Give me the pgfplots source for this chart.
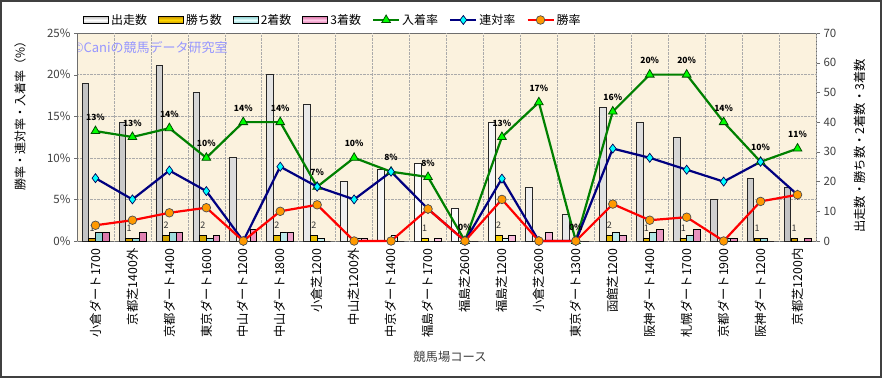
\documentclass[border=0pt]{standalone}
\usepackage{pgfplots}
\pgfplotsset{compat=1.18}
\usepackage{pgfplotstable}
\usepackage{fontspec}
\setmainfont{Noto Sans CJK JP}

\definecolor{bgbeige}{RGB}{251,242,222}
\definecolor{gridgray}{RGB}{170,170,170}
\definecolor{axgray}{RGB}{110,110,110}
\definecolor{goldL}{RGB}{255,215,0}
\definecolor{goldD}{RGB}{200,150,0}
\definecolor{cyanL}{RGB}{230,255,255}
\definecolor{cyanD}{RGB}{140,210,210}
\definecolor{pinkL}{RGB}{255,200,230}
\definecolor{pinkD}{RGB}{220,120,170}
\definecolor{grayD}{RGB}{195,195,195}
\definecolor{lgreen}{RGB}{0,128,0}
\definecolor{mgreen}{RGB}{0,255,0}
\definecolor{lnavy}{RGB}{0,0,128}
\definecolor{mcyan}{RGB}{0,255,255}
\definecolor{lred}{RGB}{255,0,0}
\definecolor{morange}{RGB}{255,153,0}
\definecolor{wmark}{RGB}{150,150,255}

\pgfplotstableread{
x N W S T wl
0 53 1 3 3 1
1 40 1 1 3 1
2 59 2 3 3 2
3 50 2 1 2 2
4 28 0 0 4 {}
5 56 2 3 3 2
6 46 2 1 0 2
7 20 0 1 1 {}
8 24 0 2 0 {}
9 26 1 0 1 1
10 11 0 0 0 {}
11 40 2 1 2 2
12 18 0 0 3 {}
13 9 0 0 0 {}
14 45 2 3 2 2
15 40 1 3 4 1
16 35 1 2 4 1
17 14 0 1 1 {}
18 21 1 1 0 1
19 18 1 0 1 1
}\bardata

\pgfplotstableread{
x win ren nyu
0 1.89 7.55 13.21
1 2.50 5.00 12.50
2 3.39 8.47 13.56
3 4.00 6.00 10.00
4 0 0 14.29
5 3.57 8.93 14.29
6 4.35 6.52 6.52
7 0 5.00 10.00
8 0 8.33 8.33
9 3.85 3.85 7.69
10 0 0 0
11 5.00 7.50 12.50
12 0 0 16.67
13 0 0 0
14 4.44 11.11 15.56
15 2.50 10.00 20.00
16 2.86 8.57 20.00
17 0 7.14 14.29
18 4.76 9.52 9.52
19 5.56 5.56 11.11
}\ratedata

\begin{document}
\begin{tikzpicture}[x=1pt,y=1pt]
\useasboundingbox (0,0) rectangle (882,378);
\fill[white] (0,0) rectangle (882,378);
% ---------- bars (right axis) ----------
\begin{axis}[
 at={(77pt,137pt)}, anchor=south west, scale only axis,
 width=739pt, height=208pt,
 xmin=-0.5, xmax=19.5, ymin=0, ymax=70,
 axis background/.style={fill=bgbeige},
 axis line style={axgray},
 ybar=0pt, bar width=6.7pt,
 xtick={0,...,19},
 xticklabels={小倉ダート1700,京都芝1400外,京都ダート1400,東京ダート1600,中山ダート1200,中山ダート1800,小倉芝1200,中山芝1200外,中京ダート1400,福島ダート1700,福島芝2600,福島芝1200,小倉芝2600,東京ダート1300,函館芝1200,阪神ダート1400,札幌ダート1700,京都ダート1900,阪神ダート1200,京都芝1200内},
 x tick label style={rotate=90, anchor=east, font=\fontsize{12.3}{13}\selectfont, black},
 major x tick style={draw=none},
 extra x ticks={-0.5,0.5,...,19.5}, extra x tick labels={},
 extra x tick style={grid=major, major tick length=0pt},
 ytick={0,10,...,70}, ytick pos=right, yticklabel pos=right,
 extra y ticks={14,28,42,56}, extra y tick labels={},
 extra y tick style={grid=major, major tick length=0pt},
 grid style={gridgray, densely dotted, line width=0.6pt},
 tick align=outside, major tick length=4pt,
 tick style={axgray},
 y tick label style={font=\fontsize{11.5}{12}\selectfont, black!75},
 /pgf/number format/assume math mode=true,
]
\addplot[draw=black!85, line width=0.8pt, left color=grayD, right color=grayD, middle color=white] table[x=x,y=N]{\bardata};
\addplot[draw=black, line width=0.6pt, left color=goldD, right color=goldD, middle color=goldL,
  nodes near coords, point meta=explicit symbolic,
  every node near coord/.append style={font=\fontsize{9}{10}\selectfont, black!80, yshift=3pt}] table[x=x,y=W,meta=wl]{\bardata};
\addplot[draw=black, line width=0.6pt, left color=cyanD, right color=cyanD, middle color=cyanL] table[x=x,y=S]{\bardata};
\addplot[draw=black, line width=0.6pt, left color=pinkD, right color=pinkD, middle color=pinkL] table[x=x,y=T]{\bardata};
\node[anchor=west, text=wmark, font=\fontsize{13}{14}\selectfont, inner sep=0pt] at (rel axis cs:-0.006,0.928) {©Caniの競馬データ研究室};
\end{axis}
% ---------- rates (left axis) ----------
\begin{axis}[
 at={(77pt,137pt)}, anchor=south west, scale only axis,
 width=739pt, height=208pt,
 xmin=-0.5, xmax=19.5, ymin=0, ymax=25,
 axis x line=none, axis y line*=left, axis line style={axgray},
 ytick={0,5,...,25}, yticklabel={\pgfmathprintnumber{\tick}\%},
 tick align=outside, major tick length=3pt, tick style={axgray},
 y tick label style={font=\fontsize{11.5}{12}\selectfont, black!75},
 /pgf/number format/assume math mode=true,
 clip=false,
 legend columns=7,
 legend style={draw=none, fill=none, at={(axis description cs:0.008,1.0625)}, anchor=west,
   font=\fontsize{12}{13}\selectfont, /tikz/every even column/.append style={column sep=9pt},
   inner sep=0pt},
 legend cell align=left,
 legend image code/.code={\draw[mark repeat=2,mark phase=2,#1] plot coordinates {(0pt,0pt) (13pt,0pt) (26pt,0pt)};},
]
\addlegendimage{legend image code/.code={\draw[draw=black, line width=0.9pt, top color=grayD, bottom color=grayD, middle color=white] (0pt,-3.5pt) rectangle (25pt,3.5pt);}}
\addlegendentry{出走数}
\addlegendimage{legend image code/.code={\draw[draw=black, line width=0.9pt, top color=goldD, bottom color=goldD, middle color=goldL] (0pt,-3.5pt) rectangle (25pt,3.5pt);}}
\addlegendentry{勝ち数}
\addlegendimage{legend image code/.code={\draw[draw=black, line width=0.9pt, top color=cyanD, bottom color=cyanD, middle color=cyanL] (0pt,-3.5pt) rectangle (25pt,3.5pt);}}
\addlegendentry{2着数}
\addlegendimage{legend image code/.code={\draw[draw=black, line width=0.9pt, top color=pinkD, bottom color=pinkD, middle color=pinkL] (0pt,-3.5pt) rectangle (25pt,3.5pt);}}
\addlegendentry{3着数}
\addplot[lgreen, line width=2.2pt, mark=triangle*, mark size=5pt,
  mark options={fill=mgreen, draw=lgreen!60!black, line width=0.8pt},
  nodes near coords={\pgfmathprintnumber[fixed,precision=0]{\pgfplotspointmeta}\%}, point meta=y,
  every node near coord/.append style={font=\bfseries\fontsize{8.5}{9}\selectfont, black, yshift=7pt}]
  table[x=x,y=nyu]{\ratedata};
\addlegendentry{入着率}
\addplot[lnavy, line width=2.2pt, mark=diamond*, mark size=4.5pt,
  mark options={fill=mcyan, draw=lnavy!70!black, line width=0.7pt}]
  table[x=x,y=ren]{\ratedata};
\addlegendentry{連対率}
\addplot[lred, line width=2.2pt, mark=*, mark size=4.3pt,
  mark options={fill=morange, draw=black!70, line width=0.7pt}]
  table[x=x,y=win]{\ratedata};
\addlegendentry{勝率}
\end{axis}
% ---------- titles ----------
\node[rotate=90, font=\fontsize{12}{13}\selectfont] at (20,265) {勝率・連対率・入着率（\%）};
\node[rotate=90, font=\fontsize{12.3}{13}\selectfont] at (860,232) {出走数・勝ち数・2着数・3着数};
\node[font=\fontsize{12.3}{13}\selectfont, black!75] at (450,21) {競馬場コース};
\draw[black!75, line width=2pt] (1,1) rectangle (881,377);
\end{tikzpicture}
\end{document}
